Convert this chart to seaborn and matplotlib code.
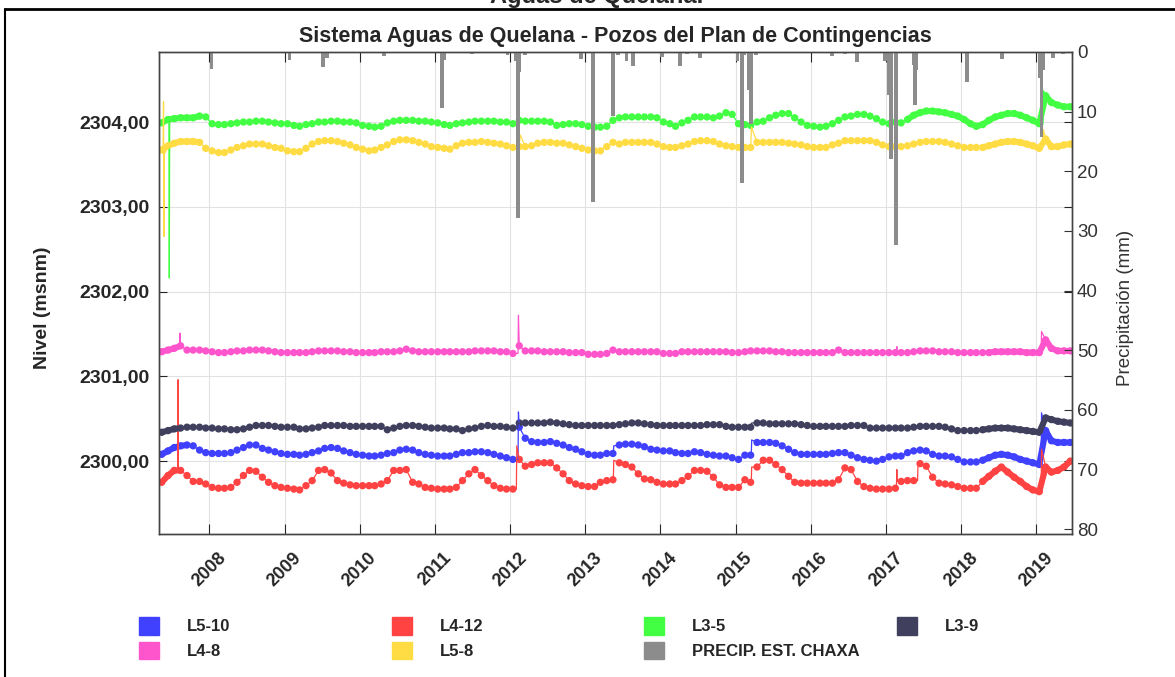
import pandas as pd
import numpy as np
import matplotlib
matplotlib.use("Agg")
import matplotlib.pyplot as plt
from matplotlib.patches import Patch
from matplotlib.lines import Line2D
from matplotlib.ticker import FuncFormatter
import seaborn as sns

sns.set_style("white")
plt.rcParams["font.family"] = ["Liberation Sans", "DejaVu Sans"]

# monthly readings, May 2007 .. Jun 2019 (mid month)
months = pd.date_range("2007-05-15", periods=146, freq=pd.DateOffset(months=1))

l3_5 = [2303.99, 2304.03, 2304.04, 2304.05, 2304.05, 2304.05, 2304.07, 2304.06,
        2303.98, 2303.97, 2303.97, 2303.98, 2303.99, 2304.00, 2304.00, 2304.01, 2304.01, 2304.00, 2303.99, 2303.98,
        2303.98, 2303.96, 2303.95, 2303.97, 2303.98, 2304.00, 2304.00, 2304.01, 2304.01, 2304.00, 2304.00, 2303.99,
        2303.96, 2303.95, 2303.94, 2303.95, 2303.99, 2304.01, 2304.02, 2304.02, 2304.02, 2304.01, 2304.01, 2304.00,
        2303.99, 2303.97, 2303.96, 2303.98, 2303.99, 2304.00, 2304.01, 2304.01, 2304.01, 2304.01, 2304.00, 2304.00,
        2303.98, 2304.02, 2304.01, 2304.01, 2304.01, 2304.01, 2304.00, 2303.96, 2303.97, 2303.98, 2303.98, 2303.97,
        2303.95, 2303.94, 2303.94, 2303.95, 2304.02, 2304.05, 2304.06, 2304.06, 2304.06, 2304.06, 2304.06, 2304.05,
        2304.00, 2303.98, 2303.95, 2303.99, 2304.02, 2304.06, 2304.06, 2304.06, 2304.05, 2304.07, 2304.11, 2304.09,
        2303.98, 2303.97, 2303.96, 2304.00, 2304.01, 2304.05, 2304.08, 2304.10, 2304.10, 2304.05, 2304.00, 2303.96,
        2303.95, 2303.94, 2303.95, 2303.98, 2304.02, 2304.06, 2304.07, 2304.09, 2304.09, 2304.07, 2304.04, 2304.00,
        2303.98, 2304.00, 2303.99, 2304.03, 2304.08, 2304.11, 2304.13, 2304.13, 2304.12, 2304.11, 2304.09, 2304.07,
        2304.03, 2303.98, 2303.95, 2303.97, 2304.02, 2304.06, 2304.08, 2304.10, 2304.10, 2304.08, 2304.05, 2304.02,
        2303.98, 2304.31, 2304.23, 2304.20, 2304.18, 2304.18]

l5_8 = [2303.67, 2303.72, 2303.75, 2303.77, 2303.77, 2303.77, 2303.76, 2303.69,
        2303.66, 2303.64, 2303.64, 2303.67, 2303.70, 2303.72, 2303.74, 2303.74, 2303.74, 2303.72, 2303.70, 2303.69,
        2303.66, 2303.65, 2303.65, 2303.69, 2303.74, 2303.77, 2303.78, 2303.78, 2303.77, 2303.75, 2303.73, 2303.70,
        2303.68, 2303.66, 2303.67, 2303.70, 2303.73, 2303.77, 2303.79, 2303.79, 2303.78, 2303.76, 2303.74, 2303.71,
        2303.70, 2303.69, 2303.68, 2303.72, 2303.75, 2303.76, 2303.76, 2303.77, 2303.76, 2303.75, 2303.74, 2303.72,
        2303.70, 2303.71, 2303.71, 2303.72, 2303.75, 2303.76, 2303.76, 2303.75, 2303.75, 2303.73, 2303.71, 2303.69,
        2303.67, 2303.66, 2303.66, 2303.71, 2303.76, 2303.74, 2303.76, 2303.76, 2303.76, 2303.76, 2303.76, 2303.74,
        2303.71, 2303.70, 2303.70, 2303.72, 2303.74, 2303.77, 2303.78, 2303.78, 2303.77, 2303.74, 2303.72, 2303.71,
        2303.70, 2303.70, 2303.70, 2303.76, 2303.76, 2303.76, 2303.76, 2303.76, 2303.75, 2303.74, 2303.73, 2303.71,
        2303.70, 2303.70, 2303.70, 2303.73, 2303.75, 2303.78, 2303.78, 2303.78, 2303.78, 2303.78, 2303.76, 2303.73,
        2303.71, 2303.71, 2303.71, 2303.72, 2303.74, 2303.76, 2303.77, 2303.77, 2303.77, 2303.76, 2303.74, 2303.72,
        2303.70, 2303.70, 2303.70, 2303.70, 2303.72, 2303.74, 2303.76, 2303.77, 2303.77, 2303.76, 2303.74, 2303.72,
        2303.69, 2303.80, 2303.71, 2303.71, 2303.73, 2303.74]

l4_8 = [2301.29, 2301.31, 2301.33, 2301.36, 2301.31, 2301.31, 2301.31, 2301.30,
        2301.29, 2301.28, 2301.28, 2301.29, 2301.30, 2301.30, 2301.31, 2301.31, 2301.31, 2301.30, 2301.29, 2301.28,
        2301.28, 2301.28, 2301.28, 2301.28, 2301.29, 2301.30, 2301.30, 2301.30, 2301.30, 2301.29, 2301.29, 2301.28,
        2301.28, 2301.28, 2301.28, 2301.29, 2301.29, 2301.29, 2301.30, 2301.32, 2301.30, 2301.29, 2301.29, 2301.29,
        2301.29, 2301.29, 2301.29, 2301.29, 2301.29, 2301.29, 2301.30, 2301.30, 2301.30, 2301.30, 2301.29, 2301.29,
        2301.27, 2301.36, 2301.30, 2301.30, 2301.30, 2301.29, 2301.29, 2301.29, 2301.29, 2301.28, 2301.28, 2301.28,
        2301.26, 2301.26, 2301.26, 2301.27, 2301.31, 2301.29, 2301.29, 2301.29, 2301.29, 2301.29, 2301.29, 2301.29,
        2301.27, 2301.27, 2301.27, 2301.29, 2301.29, 2301.29, 2301.29, 2301.29, 2301.29, 2301.29, 2301.29, 2301.28,
        2301.28, 2301.29, 2301.30, 2301.30, 2301.30, 2301.30, 2301.29, 2301.29, 2301.28, 2301.28, 2301.28, 2301.28,
        2301.28, 2301.28, 2301.28, 2301.28, 2301.31, 2301.28, 2301.28, 2301.28, 2301.28, 2301.28, 2301.28, 2301.28,
        2301.28, 2301.28, 2301.28, 2301.28, 2301.29, 2301.30, 2301.30, 2301.30, 2301.29, 2301.29, 2301.29, 2301.28,
        2301.28, 2301.28, 2301.28, 2301.28, 2301.28, 2301.29, 2301.29, 2301.29, 2301.29, 2301.29, 2301.28, 2301.28,
        2301.28, 2301.43, 2301.33, 2301.30, 2301.30, 2301.30]

l3_9 = [2300.34, 2300.36, 2300.38, 2300.39, 2300.40, 2300.40, 2300.40, 2300.39,
        2300.39, 2300.38, 2300.38, 2300.37, 2300.37, 2300.38, 2300.40, 2300.42, 2300.42, 2300.42, 2300.41, 2300.40,
        2300.40, 2300.40, 2300.38, 2300.38, 2300.39, 2300.40, 2300.42, 2300.42, 2300.42, 2300.42, 2300.41, 2300.41,
        2300.41, 2300.41, 2300.41, 2300.41, 2300.37, 2300.39, 2300.41, 2300.42, 2300.42, 2300.41, 2300.40, 2300.39,
        2300.39, 2300.39, 2300.38, 2300.38, 2300.36, 2300.38, 2300.39, 2300.41, 2300.42, 2300.41, 2300.41, 2300.40,
        2300.39, 2300.45, 2300.45, 2300.45, 2300.45, 2300.45, 2300.46, 2300.45, 2300.44, 2300.43, 2300.42, 2300.42,
        2300.42, 2300.42, 2300.42, 2300.42, 2300.42, 2300.43, 2300.44, 2300.45, 2300.45, 2300.44, 2300.43, 2300.42,
        2300.42, 2300.42, 2300.42, 2300.42, 2300.42, 2300.42, 2300.42, 2300.43, 2300.43, 2300.43, 2300.41, 2300.40,
        2300.40, 2300.40, 2300.40, 2300.45, 2300.45, 2300.44, 2300.44, 2300.44, 2300.44, 2300.44, 2300.43, 2300.42,
        2300.41, 2300.41, 2300.41, 2300.41, 2300.41, 2300.41, 2300.42, 2300.42, 2300.42, 2300.39, 2300.39, 2300.39,
        2300.39, 2300.39, 2300.39, 2300.39, 2300.40, 2300.41, 2300.41, 2300.41, 2300.41, 2300.40, 2300.38, 2300.36,
        2300.36, 2300.36, 2300.36, 2300.37, 2300.38, 2300.39, 2300.39, 2300.39, 2300.38, 2300.37, 2300.36, 2300.35,
        2300.34, 2300.51, 2300.49, 2300.47, 2300.46, 2300.45]

l5_10 = [2300.08, 2300.12, 2300.16, 2300.18, 2300.19, 2300.18, 2300.13, 2300.10,
         2300.09, 2300.09, 2300.09, 2300.10, 2300.13, 2300.16, 2300.19, 2300.19, 2300.15, 2300.13, 2300.11, 2300.09,
         2300.08, 2300.08, 2300.07, 2300.08, 2300.10, 2300.12, 2300.15, 2300.16, 2300.15, 2300.12, 2300.10, 2300.08,
         2300.07, 2300.06, 2300.06, 2300.07, 2300.09, 2300.10, 2300.13, 2300.14, 2300.13, 2300.10, 2300.08, 2300.07,
         2300.06, 2300.06, 2300.06, 2300.08, 2300.10, 2300.10, 2300.11, 2300.11, 2300.10, 2300.08, 2300.06, 2300.04,
         2300.02, 2300.40, 2300.27, 2300.23, 2300.22, 2300.22, 2300.23, 2300.21, 2300.19, 2300.16, 2300.14, 2300.11,
         2300.08, 2300.07, 2300.07, 2300.09, 2300.09, 2300.19, 2300.20, 2300.20, 2300.19, 2300.17, 2300.14, 2300.13,
         2300.12, 2300.12, 2300.10, 2300.09, 2300.09, 2300.11, 2300.10, 2300.08, 2300.07, 2300.06, 2300.06, 2300.04,
         2300.02, 2300.07, 2300.07, 2300.22, 2300.22, 2300.22, 2300.21, 2300.18, 2300.14, 2300.10, 2300.08, 2300.08,
         2300.08, 2300.08, 2300.08, 2300.09, 2300.10, 2300.10, 2300.07, 2300.04, 2300.02, 2300.01, 2300.00, 2300.02,
         2300.05, 2300.06, 2300.06, 2300.10, 2300.12, 2300.13, 2300.12, 2300.08, 2300.06, 2300.06, 2300.05, 2300.02,
         2299.99, 2299.99, 2299.99, 2300.01, 2300.04, 2300.07, 2300.08, 2300.07, 2300.05, 2300.02, 2300.00, 2299.98,
         2299.96, 2300.36, 2300.24, 2300.22, 2300.22, 2300.22]

l4_12 = [2299.75, 2299.83, 2299.89, 2299.89, 2299.83, 2299.76, 2299.76, 2299.73,
         2299.69, 2299.68, 2299.68, 2299.69, 2299.75, 2299.83, 2299.89, 2299.88, 2299.81, 2299.75, 2299.71, 2299.69,
         2299.68, 2299.67, 2299.66, 2299.71, 2299.77, 2299.89, 2299.90, 2299.86, 2299.77, 2299.74, 2299.72, 2299.71,
         2299.71, 2299.71, 2299.71, 2299.73, 2299.77, 2299.89, 2299.89, 2299.90, 2299.75, 2299.73, 2299.69, 2299.68,
         2299.67, 2299.67, 2299.67, 2299.69, 2299.77, 2299.85, 2299.90, 2299.83, 2299.77, 2299.71, 2299.68, 2299.67,
         2299.67, 2300.02, 2299.94, 2299.96, 2299.98, 2299.98, 2299.98, 2299.92, 2299.85, 2299.77, 2299.73, 2299.71,
         2299.70, 2299.70, 2299.75, 2299.77, 2299.78, 2299.98, 2299.96, 2299.93, 2299.85, 2299.79, 2299.78, 2299.75,
         2299.73, 2299.73, 2299.73, 2299.77, 2299.82, 2299.89, 2299.89, 2299.88, 2299.81, 2299.72, 2299.69, 2299.69,
         2299.69, 2299.78, 2299.75, 2299.93, 2300.01, 2300.01, 2299.96, 2299.90, 2299.82, 2299.75, 2299.74, 2299.74,
         2299.74, 2299.74, 2299.74, 2299.74, 2299.78, 2299.92, 2299.90, 2299.76, 2299.70, 2299.68, 2299.67, 2299.67,
         2299.67, 2299.68, 2299.76, 2299.77, 2299.77, 2299.97, 2299.94, 2299.81, 2299.74, 2299.73, 2299.72, 2299.70,
         2299.68, 2299.68, 2299.68, 2299.76, 2299.82, 2299.88, 2299.93, 2299.87, 2299.81, 2299.76, 2299.70, 2299.66,
         2299.64, 2299.93, 2299.87, 2299.89, 2299.93, 2300.00]

# daily spikes / jumps seen between the monthly points
spikes = {
    "L3-5": (["2007-06-19", "2007-06-21", "2007-06-23", "2019-02-02", "2019-02-05"],
             [2304.03, 2302.16, 2304.03, 2303.97, 2304.37]),
    "L5-8": (["2007-05-22", "2007-05-24", "2007-05-26", "2007-05-28", "2012-02-19", "2015-03-19",
              "2019-01-31", "2019-02-04"],
             [2303.68, 2304.24, 2302.65, 2303.62, 2303.85, 2303.94, 2303.69, 2303.91]),
    "L4-8": (["2007-08-10", "2007-08-12", "2007-08-14", "2012-02-09", "2012-02-11", "2017-02-20",
              "2017-02-22", "2017-02-24", "2019-01-24", "2019-01-26"],
             [2301.36, 2301.51, 2301.35, 2301.27, 2301.72, 2301.28, 2301.35, 2301.28, 2301.28, 2301.53]),
    "L3-9": (["2012-02-08", "2012-02-10", "2015-03-18", "2015-03-20", "2019-01-31", "2019-02-02"],
             [2300.39, 2300.46, 2300.40, 2300.45, 2300.34, 2300.51]),
    "L5-10": (["2012-02-09", "2012-02-11", "2013-05-17", "2013-05-19", "2015-03-18", "2015-03-20",
               "2019-01-24", "2019-01-26"],
              [2300.02, 2300.58, 2300.09, 2300.18, 2300.07, 2300.25, 2299.96, 2300.57]),
    "L4-12": (["2007-08-02", "2007-08-03", "2007-08-04", "2012-02-01", "2012-02-03", "2013-05-17",
               "2013-05-19", "2015-03-18", "2015-03-20", "2017-02-20", "2017-02-22", "2017-02-24",
               "2017-06-03", "2017-06-05", "2019-01-24", "2019-01-26"],
              [2299.89, 2300.96, 2299.89, 2299.67, 2300.18, 2299.78, 2300.01, 2299.75, 2299.93,
               2299.69, 2299.90, 2299.76, 2299.77, 2299.99, 2299.63, 2300.14]),
}

# periods with daily records (drawn as a continuous band)
dense = {
    "L3-5": [("2007-05-01", "2007-11-20"), ("2017-04-01", "2019-07-01")],
    "L5-8": [("2007-05-01", "2007-11-20"), ("2018-04-01", "2019-07-01")],
    "L4-8": [("2007-05-01", "2007-08-20"), ("2018-05-01", "2019-07-01")],
    "L3-9": [("2007-05-01", "2007-08-20"), ("2018-04-01", "2019-07-01")],
    "L5-10": [("2007-05-01", "2007-09-20"), ("2018-04-01", "2019-07-01")],
    "L4-12": [("2007-05-01", "2007-08-20"), ("2018-04-01", "2019-07-01")],
}

# precipitation events, Chaxa station (mm)
precip_dates = ["2008-01-12", "2009-01-25", "2009-07-06", "2009-07-24", "2010-05-01", "2011-02-05",
                "2011-02-14", "2011-07-01", "2011-12-20", "2012-01-28", "2012-02-08", "2012-02-16",
                "2012-03-12", "2012-12-10", "2013-02-06", "2013-05-15", "2013-06-10", "2013-07-20",
                "2013-08-20", "2014-01-10", "2014-04-05", "2014-05-12", "2014-07-14", "2015-01-10",
                "2015-02-02", "2015-02-12", "2015-03-06", "2015-03-18", "2015-04-12", "2016-04-12",
                "2016-06-15", "2016-08-12", "2016-12-28", "2017-01-16", "2017-01-24", "2017-02-16",
                "2017-05-14", "2017-05-22", "2017-05-28", "2018-01-30", "2018-07-16", "2019-01-18",
                "2019-01-26", "2019-02-03", "2019-03-22", "2019-05-10"]
precip_mm = [2.8, 1.3, 2.5, 1.0, 0.6, 9.4, 1.3, 0.3, 0.5, 1.5, 27.9, 3.3, 0.5, 1.1, 25.2, 10.8,
             0.5, 1.5, 2.3, 0.9, 2.3, 0.4, 1.0, 1.5, 21.9, 0.5, 6.4, 12.0, 0.5, 0.6, 0.4, 1.6,
             1.5, 7.2, 17.9, 32.3, 2.1, 8.9, 3.0, 5.0, 1.2, 4.4, 14.2, 3.0, 1.0, 0.3]

years = list(range(2008, 2020))
level_ticks = [2300, 2301, 2302, 2303, 2304]
precip_ticks = [0, 10, 20, 30, 40, 50, 60, 70, 80]

series = {"L5-10": l5_10, "L4-12": l4_12, "L3-5": l3_5, "L3-9": l3_9, "L4-8": l4_8, "L5-8": l5_8}
colors = {"L5-10": "#4040ff", "L4-12": "#ff4343", "L3-5": "#43ff43", "L3-9": "#40405e",
          "L4-8": "#ff55cc", "L5-8": "#ffdc44"}
gray = "#8c8c8c"

fig = plt.figure(figsize=(11.75, 6.77), dpi=100)
ax = fig.add_axes([159/1175, 1 - 534/677, (1072 - 159)/1175, (534 - 52)/677])
ax2 = ax.twinx()

for name, vals in series.items():
    c = colors[name]
    d = pd.DataFrame({"fecha": months, "nivel": vals})
    sd, sv = spikes[name]
    s = pd.DataFrame({"fecha": pd.to_datetime(sd), "nivel": sv})
    full = pd.concat([d, s]).sort_values("fecha")
    sns.lineplot(data=full, x="fecha", y="nivel", ax=ax, color=c, lw=0.9,
                 estimator=None, sort=False, legend=False)
    for a, b in dense[name]:
        seg = d[(d.fecha >= a) & (d.fecha <= b)]
        sns.lineplot(data=seg, x="fecha", y="nivel", ax=ax, color=c, lw=4.4,
                     estimator=None, legend=False)
    sns.scatterplot(data=d, x="fecha", y="nivel", ax=ax, color=c, s=28,
                    edgecolor="none", legend=False)

ax2.bar(pd.to_datetime(precip_dates), precip_mm, width=19, color=gray, lw=0)

ax.set_xlim(pd.Timestamp("2007-05-02"), pd.Timestamp("2019-06-23"))
ax.set_ylim(2299.14, 2304.826)
ax2.set_ylim(80.8, 0)

ax.set_xticks(pd.to_datetime([f"{y}-01-01" for y in years]))
ax.set_xticklabels([str(y) for y in years], rotation=45, fontsize=13, fontweight="bold")
ax.set_yticks(level_ticks)
ax.yaxis.set_major_formatter(FuncFormatter(lambda v, p: f"{v:.2f}".replace(".", ",")))
for lbl in ax.get_yticklabels():
    lbl.set_fontweight("bold")
ax.tick_params(axis="y", labelsize=14, direction="in", length=6, left=True, right=True, pad=7)
ax.tick_params(axis="x", direction="in", length=7, top=True, bottom=True, pad=11)
ax2.set_yticks(precip_ticks)
ax2.tick_params(axis="y", labelsize=13.5, direction="in", length=6, colors="#333333")

ax.grid(True, color="#e2e2e2", lw=0.8)
ax.set_axisbelow(True)
for a_ in (ax, ax2):
    for sp in a_.spines.values():
        sp.set_color("#444444")
        sp.set_linewidth(1.0)

ax.set_xlabel("")
ax.set_ylabel("Nivel (msnm)", fontsize=14, fontweight="bold")
ax.yaxis.set_label_coords(-0.118, 0.47)
ax2.set_ylabel("Precipitación (mm)", fontsize=13.5, color="#333333")
ax2.yaxis.set_label_coords(1.049, 0.47)
ax.set_title("Sistema Aguas de Quelana - Pozos del Plan de Contingencias",
             fontsize=15.5, fontweight="bold", pad=7)

# legend in four fixed columns, like the original
h = {n: Patch(color=colors[n]) for n in series}
h["PRECIP. EST. CHAXA"] = Patch(color=gray)
cols = [["L5-10", "L4-8"], ["L4-12", "L5-8"], ["L3-5", "PRECIP. EST. CHAXA"], ["L3-9"]]
col_x = [139, 392, 644, 897]
for names, x0 in zip(cols, col_x):
    leg = fig.legend([h[n] for n in names], names, loc="upper left",
                     bbox_to_anchor=(x0/1175, 1 - 617/677), frameon=False,
                     borderpad=0, borderaxespad=0, handlelength=1.2, handleheight=1.25,
                     handletextpad=1.65, labelspacing=0.42,
                     prop={"size": 12, "weight": "bold"})

# page frame and the page title clipped at the top, as in the source
fig.add_artist(Line2D([5/1175, 1], [1 - 9/677, 1 - 9/677], color="black", lw=2))
fig.add_artist(Line2D([5/1175, 5/1175], [0, 1 - 9/677], color="black", lw=1.5))
fig.text(597/1175, 1 - 3/677, "Aguas de Quelana.", ha="center", va="baseline",
         fontsize=17, fontweight="bold")

fig.savefig("out.png", dpi=100)
